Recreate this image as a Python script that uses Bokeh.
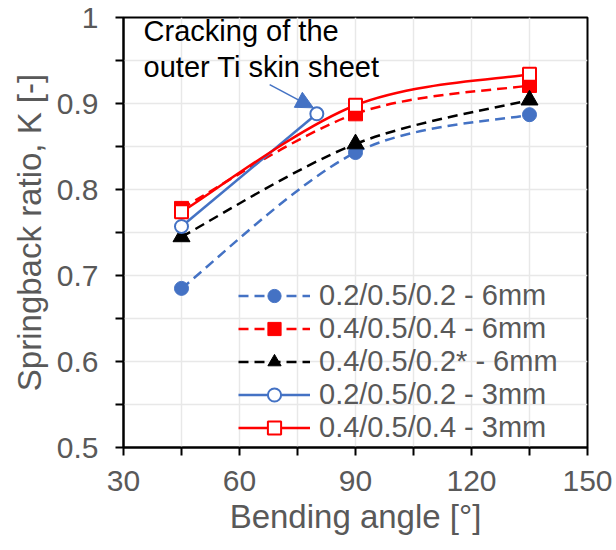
from bokeh.plotting import figure
from bokeh.models import (Range1d, FixedTicker, Legend, LegendItem, Label,
                          Arrow, NormalHead)
from bokeh.embed import file_html
from bokeh.resources import INLINE

# Springback ratio K against bending angle for each laminate / punch radius
angles_6mm = [45, 90, 135]
k_thin_6mm = [0.685, 0.843, 0.887]        # 0.2/0.5/0.2 - 6mm
k_thick_6mm = [0.778, 0.888, 0.921]       # 0.4/0.5/0.4 - 6mm
k_mixed_6mm = [0.745, 0.853, 0.904]       # 0.4/0.5/0.2* - 6mm
angles_thin_3mm = [45, 80]
k_thin_3mm = [0.757, 0.888]               # 0.2/0.5/0.2 - 3mm (cracked at 80°)
angles_thick_3mm = [45, 90, 135]
k_thick_3mm = [0.774, 0.898, 0.934]       # 0.4/0.5/0.4 - 3mm

labels = ["0.2/0.5/0.2 - 6mm", "0.4/0.5/0.4 - 6mm", "0.4/0.5/0.2* - 6mm",
          "0.2/0.5/0.2 - 3mm", "0.4/0.5/0.4 - 3mm"]

x_major = [30, 60, 90, 120, 150]
x_minor = [45, 75, 105, 135]
y_major = [0.5, 0.6, 0.7, 0.8, 0.9, 1.0]
y_minor = [0.55, 0.65, 0.75, 0.85, 0.95]

BLUE = "#4472C4"
RED = "#FF0000"
BLACK = "#000000"
GRAY = "#595959"
FONT = "Liberation Sans"


def smooth_segments(xs, ys):
    """Cubic Bezier segments (Catmull-Rom style) through the given points."""
    n = len(xs)
    seg = dict(x0=[], y0=[], x1=[], y1=[], cx0=[], cy0=[], cx1=[], cy1=[])
    for i in range(n - 1):
        xp, yp = (xs[i - 1], ys[i - 1]) if i > 0 else (xs[i], ys[i])
        xn, yn = (xs[i + 2], ys[i + 2]) if i + 2 < n else (xs[i + 1], ys[i + 1])
        seg["x0"].append(xs[i]); seg["y0"].append(ys[i])
        seg["x1"].append(xs[i + 1]); seg["y1"].append(ys[i + 1])
        seg["cx0"].append(xs[i] + (xs[i + 1] - xp) / 6)
        seg["cy0"].append(ys[i] + (ys[i + 1] - yp) / 6)
        seg["cx1"].append(xs[i + 1] - (xn - xs[i]) / 6)
        seg["cy1"].append(ys[i + 1] - (yn - ys[i]) / 6)
    return seg


p = figure(width=616, height=550, output_backend="svg", toolbar_location=None,
           x_range=Range1d(30, 150), y_range=Range1d(0.5, 1.0),
           min_border_left=123, min_border_right=29,
           min_border_top=17, min_border_bottom=103)

p.outline_line_color = "black"
p.outline_line_width = 2
p.background_fill_color = "white"

# axes
for ax in (p.xaxis[0], p.yaxis[0]):
    ax.axis_line_color = "black"
    ax.axis_line_width = 2
    ax.major_tick_line_color = "black"
    ax.minor_tick_line_color = "black"
    ax.major_tick_line_width = 2
    ax.minor_tick_line_width = 2
    ax.major_tick_out = 8
    ax.major_tick_in = 0
    ax.minor_tick_out = 8
    ax.minor_tick_in = 0
    ax.major_label_text_font = FONT
    ax.major_label_text_font_size = "30px"
    ax.major_label_text_color = GRAY
    ax.axis_label_text_font = FONT
    ax.axis_label_text_font_size = "33px"
    ax.axis_label_text_font_style = "normal"
    ax.axis_label_text_color = GRAY

p.xaxis.ticker = FixedTicker(ticks=x_major, minor_ticks=x_minor)
p.yaxis.ticker = FixedTicker(ticks=y_major, minor_ticks=y_minor)
p.yaxis.major_label_overrides = {1: "1"}
p.xaxis.axis_label = "Bending angle [°]"
p.yaxis.axis_label = "Springback ratio, K [-]"
p.xaxis.major_label_standoff = 15
p.yaxis.major_label_standoff = 17
p.xaxis.axis_label_standoff = 4
p.yaxis.axis_label_standoff = 6

for g in (p.xgrid[0], p.ygrid[0]):
    g.grid_line_color = "#e8e8e8"
    g.grid_line_width = 1.5
    g.minor_grid_line_color = "#e8e8e8"
    g.minor_grid_line_width = 1.5

DASH = "10 6"

# 0.2/0.5/0.2 - 6mm
r1l = p.bezier(source=smooth_segments(angles_6mm, k_thin_6mm),
               x0="x0", y0="y0", x1="x1", y1="y1", cx0="cx0", cy0="cy0",
               cx1="cx1", cy1="cy1", line_color=BLUE, line_width=2.5,
               line_dash=DASH)
r1m = p.scatter(angles_6mm, k_thin_6mm, marker="circle", size=14,
                fill_color=BLUE, line_color=BLUE)

# 0.4/0.5/0.4 - 6mm
r2l = p.bezier(source=smooth_segments(angles_6mm, k_thick_6mm),
               x0="x0", y0="y0", x1="x1", y1="y1", cx0="cx0", cy0="cy0",
               cx1="cx1", cy1="cy1", line_color=RED, line_width=2.5,
               line_dash=DASH)
r2m = p.scatter(angles_6mm, k_thick_6mm, marker="square", size=14,
                fill_color=RED, line_color=RED)

# 0.4/0.5/0.2* - 6mm
r3l = p.bezier(source=smooth_segments(angles_6mm, k_mixed_6mm),
               x0="x0", y0="y0", x1="x1", y1="y1", cx0="cx0", cy0="cy0",
               cx1="cx1", cy1="cy1", line_color=BLACK, line_width=2.5,
               line_dash=DASH)
r3m = p.scatter(angles_6mm, k_mixed_6mm, marker="triangle", size=17,
                fill_color=BLACK, line_color=BLACK)

# 0.2/0.5/0.2 - 3mm
r4l = p.line(angles_thin_3mm, k_thin_3mm, line_color=BLUE, line_width=2.5)
r4m = p.scatter(angles_thin_3mm, k_thin_3mm, marker="circle", size=13,
                fill_color="white", line_color=BLUE, line_width=2)

# 0.4/0.5/0.4 - 3mm
r5l = p.bezier(source=smooth_segments(angles_thick_3mm, k_thick_3mm),
               x0="x0", y0="y0", x1="x1", y1="y1", cx0="cx0", cy0="cy0",
               cx1="cx1", cy1="cy1", line_color=RED, line_width=2.5)
r5m = p.scatter(angles_thick_3mm, k_thick_3mm, marker="square", size=13,
                fill_color="white", line_color=RED, line_width=2)

legend = Legend(items=[
    LegendItem(label=labels[0], renderers=[r1l, r1m]),
    LegendItem(label=labels[1], renderers=[r2l, r2m]),
    LegendItem(label=labels[2], renderers=[r3l, r3m]),
    LegendItem(label=labels[3], renderers=[r4l, r4m]),
    LegendItem(label=labels[4], renderers=[r5l, r5m]),
], location=(115, 3))
legend.background_fill_alpha = 0
legend.border_line_alpha = 0
legend.padding = 0
legend.margin = 0
legend.spacing = 0
legend.glyph_width = 72
legend.glyph_height = 33
legend.label_height = 33
legend.label_standoff = 9
legend.label_text_font = FONT
legend.label_text_font_size = "29px"
legend.label_text_color = GRAY
p.add_layout(legend, "center")

# note on the cracked specimen
for txt, yy in (("Cracking of the", 0.984), ("outer Ti skin sheet", 0.943)):
    p.add_layout(Label(x=35.2, y=yy, text=txt, text_font=FONT,
                       text_font_size="29px", text_color="black",
                       text_baseline="alphabetic"))

p.add_layout(Arrow(end=NormalHead(size=17, fill_color=BLUE, line_color=BLUE),
                   x_start=67.8, y_start=0.922, x_end=79.1, y_end=0.895,
                   line_color=BLUE, line_width=1.5))

open("out.html", "w").write(file_html(p, INLINE))
